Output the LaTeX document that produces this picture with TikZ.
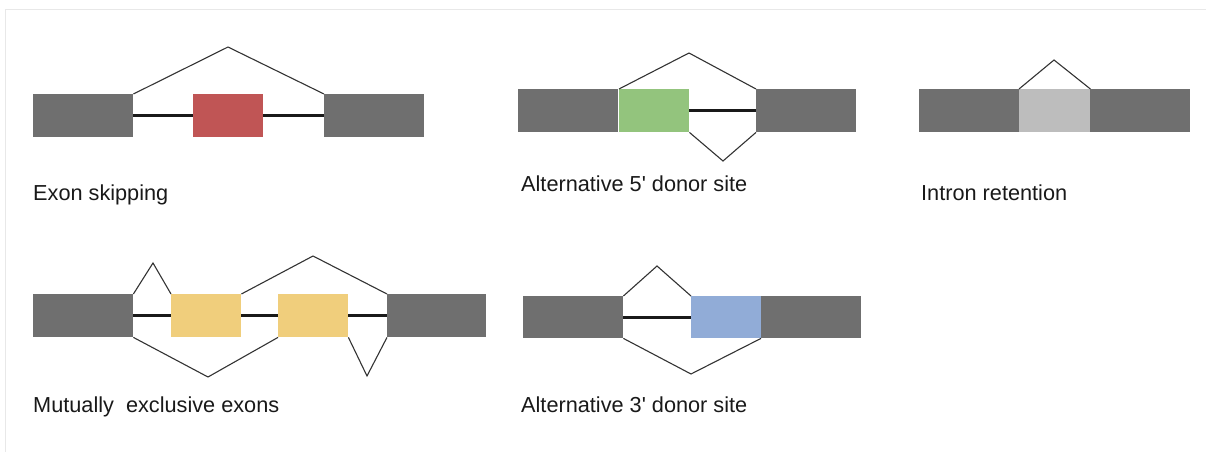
\documentclass[tikz,border=0pt]{standalone}
\usepackage{fontspec}
\setmainfont{Liberation Sans}
\usepackage{xcolor}

\definecolor{exongray}{RGB}{111,111,111}
\definecolor{skipred}{RGB}{192,85,85}
\definecolor{donorgreen}{RGB}{147,196,125}
\definecolor{retained}{RGB}{189,189,189}
\definecolor{mutyellow}{RGB}{240,206,124}
\definecolor{acceptblue}{RGB}{145,172,215}
\definecolor{framegray}{RGB}{232,232,232}

\begin{document}
\begin{tikzpicture}[x=1pt,y=-1pt]
\tikzset{exon/.style={fill=exongray,draw=none,inner sep=0pt,anchor=north west,minimum width=100pt,minimum height=43pt}}
\tikzset{alt/.style={inner sep=0pt,anchor=north west,minimum width=70pt,minimum height=43pt}}
\tikzset{intron/.style={line width=2.8pt,black!90}}
\tikzset{splice/.style={line width=1.1pt,black!80,line join=miter}}
\tikzset{caption/.style={anchor=base west,inner sep=0pt,font=\fontsize{21.7}{26}\selectfont,text=black!90}}

\useasboundingbox (0,0) rectangle (1206,452);
\draw[framegray,line width=1pt] (5,452) -- (5,10) -- (1206,10);

% exon skipping
\node[exon] (es1) at (33,94) {};
\node[alt,fill=skipred] (es2) at (193,94) {};
\node[exon] (es3) at (324,94) {};
\coordinate (esp) at (228,47);
\draw[intron] (es1.east) -- (es2.west);
\draw[intron] (es2.east) -- (es3.west);
\draw[splice] (es1.north east) -- (esp) -- (es3.north west);
\node[caption] (eslab) at (33,200) {Exon skipping};

% alternative 5' site
\node[exon] (fd1) at (518,89) {};
\node[alt,fill=donorgreen] (fd2) at (619,89) {};
\node[exon] (fd3) at (756,89) {};
\coordinate (fdtop) at (689,53);
\coordinate (fdbot) at (723,161);
\draw[intron] (fd2.east) -- (fd3.west);
\draw[splice] (fd2.north west) -- (fdtop) -- (fd3.north west);
\draw[splice] (fd2.south east) -- (fdbot) -- (fd3.south west);
\node[caption] (fdlab) at (521,191) {Alternative 5\textquotesingle{} donor site};

% intron retention
\node[exon] (ir1) at (919,89) {};
\node[alt,minimum width=71pt,fill=retained] (ir2) at (1019,89) {};
\node[exon] (ir3) at (1090,89) {};
\coordinate (irp) at (1054,60);
\draw[splice] (ir2.north west) -- (irp) -- (ir2.north east);
\node[caption] (irlab) at (921,200) {Intron retention};

% mutually exclusive exons
\node[exon] (mx1) at (33,294) {};
\node[alt,fill=mutyellow] (mx2) at (171,294) {};
\node[alt,fill=mutyellow] (mx3) at (278,294) {};
\node[exon,minimum width=99pt] (mx4) at (387,294) {};
\coordinate (mxa) at (153,263);
\coordinate (mxb) at (313,256);
\coordinate (mxc) at (208,377);
\coordinate (mxd) at (367,376);
\draw[intron] (mx1.east) -- (mx2.west);
\draw[intron] (mx2.east) -- (mx3.west);
\draw[intron] (mx3.east) -- (mx4.west);
\draw[splice] (mx1.north east) -- (mxa) -- (mx2.north west);
\draw[splice] (mx2.north east) -- (mxb) -- (mx4.north west);
\draw[splice] (mx1.south east) -- (mxc) -- (mx3.south west);
\draw[splice] (mx3.south east) -- (mxd) -- (mx4.south west);
\node[caption] (mxlab) at (33,412) {Mutually\ \ exclusive exons};

% alternative 3' site
\node[exon,minimum height=42pt] (td1) at (523,296) {};
\node[alt,minimum height=42pt,fill=acceptblue] (td2) at (691,296) {};
\node[exon,minimum height=42pt] (td3) at (761,296) {};
\coordinate (tdtop) at (657,266);
\coordinate (tdbot) at (691,374);
\draw[intron] (td1.east) -- (td2.west);
\draw[splice] (td1.north east) -- (tdtop) -- (td2.north west);
\draw[splice] (td1.south east) -- (tdbot) -- (td3.south west);
\node[caption] (tdlab) at (521,412) {Alternative 3\textquotesingle{} donor site};

\end{tikzpicture}
\end{document}
